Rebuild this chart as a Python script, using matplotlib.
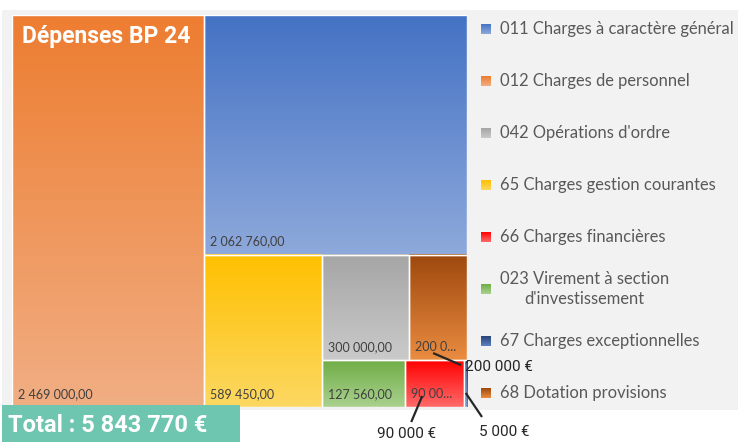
import numpy as np
import matplotlib
matplotlib.use("Agg")
import matplotlib.pyplot as plt
from matplotlib.patches import Rectangle
from matplotlib.colors import to_rgb

# ---------------- data ----------------
categories = ["011 Charges à caractère général", "012 Charges de personnel",
              "042 Opérations d'ordre", "65 Charges gestion courantes",
              "66 Charges financières", "023 Virement à section\nd'investissement",
              "67 Charges exceptionnelles", "68 Dotation provisions"]
values = [2062760, 2469000, 300000, 589450, 90000, 127560, 5000, 200000]
callout_labels = ["", "", "", "", "90 000 €", "", "5 000 €", "200 000 €"]
title = "Dépenses BP 24"
total_label = "Total : 5 843 770 €"

# gradient colours (top, bottom)
colors = [("#4472C4", "#8EA9DB"), ("#ED7D31", "#F1AE83"), ("#A5A5A5", "#CACACA"),
          ("#FFC000", "#FCD862"), ("#FF0000", "#FF6A6A"), ("#70AD47", "#A9D18E"),
          ("#264478", "#5E80C2"), ("#9E480E", "#EA8C40")]

# nested slice/dice layout (Excel-like)
layout = ("h", [1, ("v", [0, ("h", [3, ("v", [("h", [2, 7]), ("h", [5, 4, 6])])])])])

W, H = 738, 442
fig = plt.figure(figsize=(W / 100, H / 100), dpi=100)
fig.patch.set_facecolor("white")

def fx(px):
    return px / W

def fy(py):
    return 1 - py / H

# gray panel background
fig.patches.append(Rectangle((fx(2), fy(410)), fx(736), 400 / H, transform=fig.transFigure,
                             facecolor="#F2F2F2", edgecolor="none", zorder=-10))

# treemap axes
TX0, TY0, TW, TH = 12, 15, 455, 392
ax = fig.add_axes([fx(TX0), fy(TY0 + TH), TW / W, TH / H])
ax.axis("off")

def node_value(n):
    if isinstance(n, int):
        return values[n]
    return sum(node_value(c) for c in n[1])

rects = {}

def place(n, x, y, w, h):
    if isinstance(n, int):
        rects[n] = (x, y, w, h)
        return
    kind, children = n
    tot = node_value(n)
    pos = 0.0
    for c in children:
        f = node_value(c) / tot
        if kind == "h":
            place(c, x + pos * w, y, f * w, h)
        else:
            place(c, x, y + pos * h, w, f * h)
        pos += f

place(layout, 0.0, 0.0, 1.0, 1.0)

def grad(axis, x0, y0, w, h, ctop, cbot, z=1):
    t = np.linspace(0, 1, 128)[:, None, None]
    img = (1 - t) * np.array(to_rgb(ctop)) + t * np.array(to_rgb(cbot))
    axis.imshow(img, extent=(x0, x0 + w, y0 + h, y0), aspect="auto",
                interpolation="bilinear", origin="upper", zorder=z)

for i, (x, y, w, h) in rects.items():
    grad(ax, x, y, w, h, *colors[i])
    ax.add_patch(Rectangle((x, y), w, h, fill=False, edgecolor="white", lw=1.0, zorder=2))

ax.set_xlim(0, 1)
ax.set_ylim(1, 0)

renderer = fig.canvas.get_renderer()

def fmt(v):
    s = f"{v:,.2f}"
    return s.replace(",", " ").replace(".", ",")

for i, (x, y, w, h) in rects.items():
    wpx = w * TW
    if wpx < 20:
        continue
    full = fmt(values[i])
    t = ax.annotate(full, xy=(x, y + h), xytext=(6, 13), textcoords="offset pixels",
                    ha="left", va="center", fontsize=9, family="Lato", color="#404040", zorder=5)
    s = full
    while t.get_window_extent(renderer).width > wpx - 12 and len(s) > 1:
        s = s[:-1]
        t.set_text(s.rstrip() + "...")

# callouts: (start offset, end offset, text offset) in pixels, plus anchor edge
callout_geom = {
    7: ((24, -7), (-6, 5), (-2, 7), "left", "right"),
    4: ((17, -11), (6, 15), (1, 27), "center", "left"),
    6: ((2, -14), (15, 10), (37, 25), "center", "right"),
}
for i, (p0, p1, pt, ha, edge) in callout_geom.items():
    x, y, w, h = rects[i]
    ex = x + w if edge == "right" else x
    xa = x + p0[0] / TW
    ya = y + h + p0[1] / TH
    xe = ex + p1[0] / TW
    ye = y + h + p1[1] / TH
    xt = ex + pt[0] / TW
    yt = y + h + pt[1] / TH
    ax.plot([xa, xe], [ya, ye], color="#262626", lw=1.6, clip_on=False, zorder=6,
            solid_capstyle="butt")
    ax.text(xt, yt, callout_labels[i], ha=ha, va="center", fontsize=11, family="Roboto",
            color="#262626", clip_on=False, zorder=6)

# title
x, y, w, h = rects[1]
ax.annotate(title, xy=(x, y), xytext=(10, -21), textcoords="offset pixels", ha="left",
            va="center", fontsize=16.5, family="Roboto", weight="bold", color="white", zorder=7)

# total box
fig.patches.append(Rectangle((fx(2), 0), fx(238), 37 / H, transform=fig.transFigure,
                             facecolor="#6EC5B0", edgecolor="none", zorder=8))
fig.text(fx(8), fy(426), total_label, ha="left", va="center", fontsize=17, family="Roboto",
         weight="bold", color="white", zorder=9)

# legend
LX0, LY0, LW, LH = 475, 3, 263, 416
lax = fig.add_axes([fx(LX0), fy(LY0 + LH), LW / W, LH / H])
lax.axis("off")
n = len(categories)
for i, lab in enumerate(categories):
    grad(lax, 6, i - 5 / 52, 10, 10 / 52, *colors[i])
    lax.text(25, i, lab, ha="left", va="center", fontsize=11.9, family="Lato",
             color="#595959", multialignment="center", linespacing=1.3)
lax.set_xlim(0, LW)
lax.set_ylim(n - 0.5, -0.5)

fig.savefig("out.png", dpi=100, facecolor="white")
